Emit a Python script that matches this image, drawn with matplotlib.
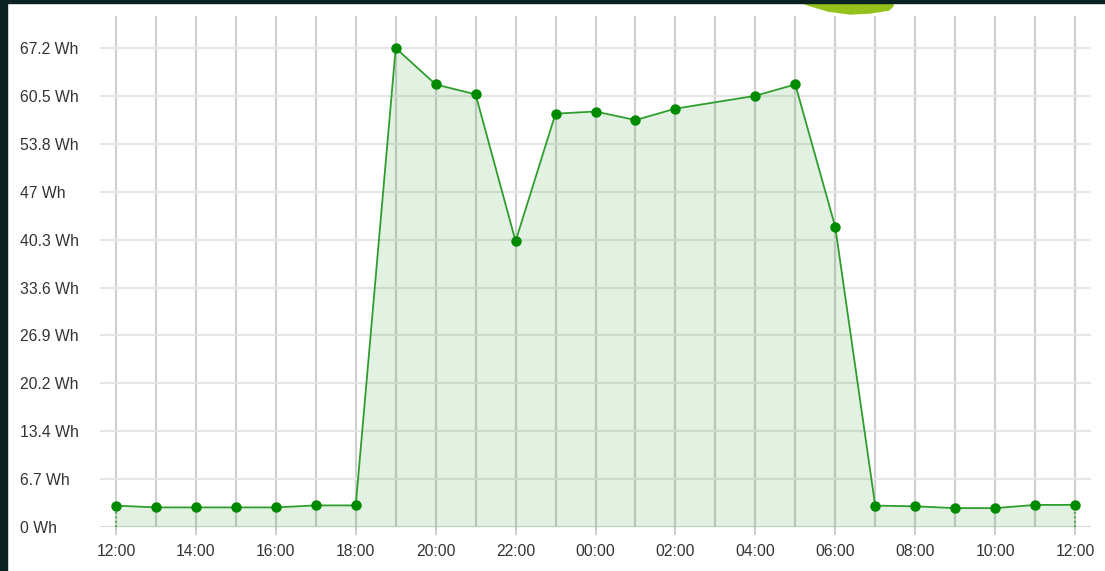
import numpy as np
import matplotlib.pyplot as plt
from matplotlib.patches import Rectangle, Polygon

# часы от 12:00 (03:00 пропущено в данных)
hours = [0, 1, 2, 3, 4, 5, 6, 7, 8, 9, 10, 11, 12, 13, 14,
         16, 17, 18, 19, 20, 21, 22, 23, 24]
energy = [3.0, 2.75, 2.75, 2.75, 2.75, 3.03, 3.03, 67.2, 62.1, 60.7, 40.1,
          58.0, 58.3, 57.1, 58.7, 60.5, 62.1, 42.1, 3.0, 2.9, 2.65, 2.65,
          3.1, 3.1]

y_ticks = [0, 6.72, 13.44, 20.16, 26.88, 33.6, 40.32, 47.04, 53.76, 60.48, 67.2]
y_labels = ['0 Wh', '6.7 Wh', '13.4 Wh', '20.2 Wh', '26.9 Wh', '33.6 Wh',
            '40.3 Wh', '47 Wh', '53.8 Wh', '60.5 Wh', '67.2 Wh']
x_ticks = list(range(0, 25, 2))
x_labels = [f'{(12 + h) % 24:02d}:00' for h in x_ticks]

W, H = 1105, 571
fig = plt.figure(figsize=(W / 100, H / 100), dpi=100)
plt.rcParams['font.family'] = ['Liberation Sans', 'DejaVu Sans']

ax = fig.add_axes([100 / W, 1 - 527 / H, 991 / W, (527 - 16) / H])
ax.set_xlim(-0.4, 24.4)
ax.set_ylim(0, 71.7)

# сетка
for h in range(25):
    ax.axvline(h, color='#d0d0d0', lw=1.6, zorder=1)
for t in y_ticks[1:]:
    ax.axhline(t, color='#e6e6e6', lw=1.6, zorder=1)
ax.axhline(0, color='#cccccc', lw=1.8, zorder=1)

# данные
ax.fill_between(hours, 0, energy, color='#008000', alpha=0.11, lw=0, zorder=2)
ax.plot(hours, energy, color='#2e9e2e', lw=1.3, zorder=3)
ax.plot(hours, energy, 'o', color='#008a00', ms=6.5, zorder=4)
ax.vlines([hours[0], hours[-1]], 0, [energy[0], energy[-1]],
          colors='#2e9e2e', linestyles=':', lw=1.2, zorder=3)

for s in ax.spines.values():
    s.set_visible(False)

ax.set_yticks(y_ticks)
ax.set_yticklabels(y_labels, ha='left')
ax.tick_params(axis='y', length=0, pad=57.6, labelsize=11.3, labelcolor='#333333')
ax.set_xticks(x_ticks)
ax.set_xticklabels(x_labels)
ax.tick_params(axis='x', length=6, width=1.4, color='#cccccc', pad=6,
               labelsize=11.3, labelcolor='#333333')

# рамка и логотип
fig.patches.append(Rectangle((0, 0), 7 / W, 1, transform=fig.transFigure,
                             color='#0a2220', zorder=10))
fig.patches.append(Rectangle((0, 1 - 3 / H), 1, 3 / H, transform=fig.transFigure,
                             color='#0a2220', zorder=10))
swoosh_px = [(795, 0), (893, 0), (893, 6), (889, 10), (870, 13), (850, 14),
             (828, 11), (808, 5)]
fig.patches.append(Polygon([(x / W, 1 - y / H) for x, y in swoosh_px],
                           closed=True, transform=fig.transFigure,
                           color='#94c11a', zorder=9))

plt.savefig('out.png', dpi=100)
